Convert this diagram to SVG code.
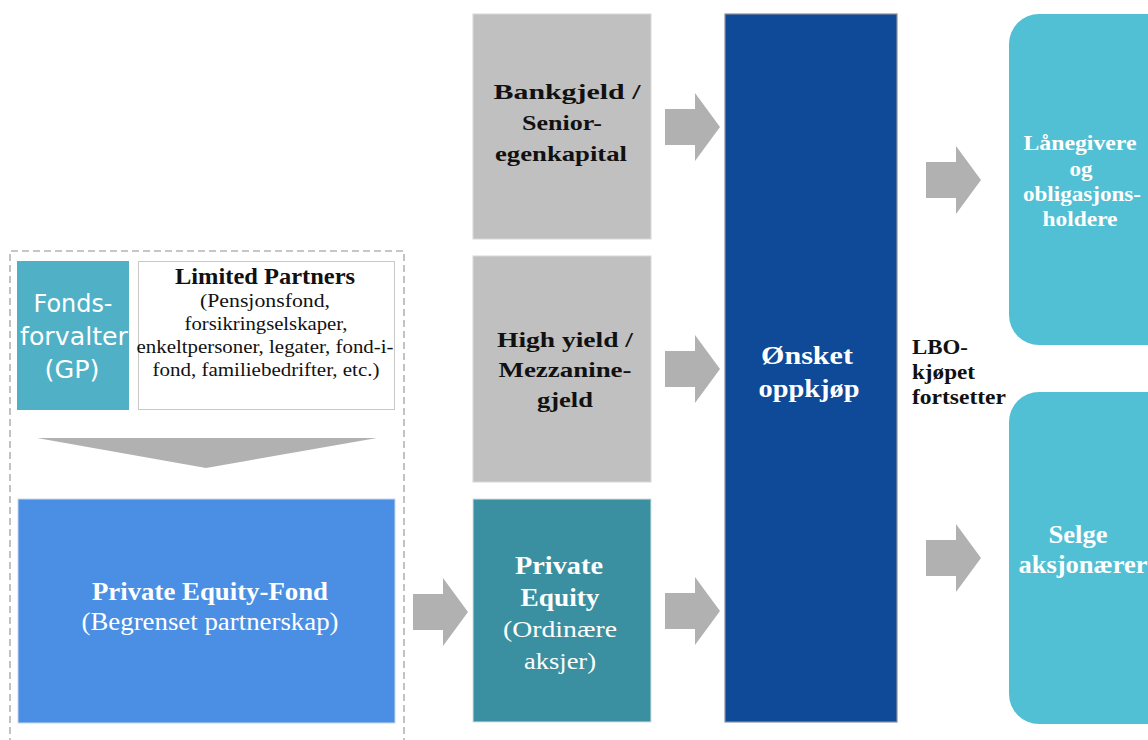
<svg xmlns="http://www.w3.org/2000/svg" xmlns:xlink="http://www.w3.org/1999/xlink" width="1148" height="740" viewBox="0 0 1148 740">
<style>
.serif{font-family:"Liberation Serif","Times New Roman",serif}
.b{font-weight:bold}
.w{fill:#ffffff}
.k{fill:#111111}
.gray{fill:#c0c0c0;stroke:#d8d8d8;stroke-width:1}
.arr{fill:#b1b1b1}
.t{text-anchor:middle}
</style>
<defs>
<path id="arrow" d="M0,-18 H30 V-34 L55,0 L30,34 V18 H0 Z"/>
</defs>
<rect width="1148" height="740" fill="#ffffff"/>

<g id="fund-frame">
<path d="M10,745 V251 H404 V745" fill="none" stroke="#b4b4b4" stroke-width="1.6" stroke-dasharray="7,4"/>
</g>

<g id="gp">
<rect x="17" y="261" width="112" height="149" fill="#4fb0c6"/>
<text class="t w" font-family="DejaVu Sans,sans-serif" font-size="25" x="73" y="312" textLength="79" lengthAdjust="spacingAndGlyphs">Fonds-</text>
<text class="t w" font-family="DejaVu Sans,sans-serif" font-size="25" x="74" y="345" textLength="108" lengthAdjust="spacingAndGlyphs">forvalter</text>
<text class="t w" font-family="DejaVu Sans,sans-serif" font-size="25" x="72" y="378" textLength="55" lengthAdjust="spacingAndGlyphs">(GP)</text>
</g>

<g id="lp">
<rect x="138.5" y="261.5" width="256" height="148" fill="#ffffff" stroke="#c8c8c8" stroke-width="1"/>
<text class="serif b t k" font-size="24" x="265" y="284" textLength="180" lengthAdjust="spacingAndGlyphs">Limited Partners</text>
<text class="serif t k" font-size="18.5" x="265" y="307" textLength="130" lengthAdjust="spacingAndGlyphs">(Pensjonsfond,</text>
<text class="serif t k" font-size="18.5" x="266" y="330" textLength="163" lengthAdjust="spacingAndGlyphs">forsikringselskaper,</text>
<text class="serif t k" font-size="18.5" x="265" y="353" textLength="257" lengthAdjust="spacingAndGlyphs">enkeltpersoner, legater, fond-i-</text>
<text class="serif t k" font-size="18.5" x="266" y="376" textLength="227" lengthAdjust="spacingAndGlyphs">fond, familiebedrifter, etc.)</text>
</g>

<g id="pe-fond">
<rect x="18" y="499" width="377" height="224" fill="#4a8fe3" stroke="#c8d8ee" stroke-width="1"/>
<text class="serif b t w" font-size="26" x="210" y="600" textLength="236" lengthAdjust="spacingAndGlyphs">Private Equity-Fond</text>
<text class="serif t w" font-size="25" x="210" y="630" textLength="257" lengthAdjust="spacingAndGlyphs">(Begrenset partnerskap)</text>
</g>

<g id="bankgjeld">
<rect class="gray" x="473" y="14" width="178" height="225"/>
<text class="serif b t k" font-size="22" x="567" y="99" textLength="147" lengthAdjust="spacingAndGlyphs">Bankgjeld /</text>
<text class="serif b t k" font-size="22" x="562" y="130" textLength="80" lengthAdjust="spacingAndGlyphs">Senior-</text>
<text class="serif b t k" font-size="22" x="561" y="161" textLength="132" lengthAdjust="spacingAndGlyphs">egenkapital</text>
</g>

<g id="high-yield">
<rect class="gray" x="473" y="256" width="178" height="226"/>
<text class="serif b t k" font-size="22" x="565" y="347" textLength="136" lengthAdjust="spacingAndGlyphs">High yield /</text>
<text class="serif b t k" font-size="22" x="565" y="377" textLength="133" lengthAdjust="spacingAndGlyphs">Mezzanine-</text>
<text class="serif b t k" font-size="22" x="565" y="407" textLength="56" lengthAdjust="spacingAndGlyphs">gjeld</text>
</g>

<g id="private-equity">
<rect x="473" y="499" width="178" height="223" fill="#3a90a0" stroke="#d8e0e0" stroke-width="1"/>
<text class="serif b t w" font-size="25" x="559" y="574" textLength="88" lengthAdjust="spacingAndGlyphs">Private</text>
<text class="serif b t w" font-size="25" x="560" y="606" textLength="79" lengthAdjust="spacingAndGlyphs">Equity</text>
<text class="serif t w" font-size="24" x="560" y="637" textLength="114" lengthAdjust="spacingAndGlyphs">(Ordinære</text>
<text class="serif t w" font-size="24" x="560" y="669" textLength="72" lengthAdjust="spacingAndGlyphs">aksjer)</text>
</g>

<g id="onsket-oppkjop">
<rect x="725" y="14" width="172" height="708" fill="#0f4a98" stroke="#8a8f99" stroke-width="1.2"/>
<text class="serif b t w" font-size="26" x="807" y="364" textLength="92" lengthAdjust="spacingAndGlyphs">Ønsket</text>
<text class="serif b t w" font-size="26" x="809" y="397" textLength="101" lengthAdjust="spacingAndGlyphs">oppkjøp</text>
</g>

<g id="lbo-label">
<text class="serif b k" font-size="21" x="912" y="354" textLength="56" lengthAdjust="spacingAndGlyphs">LBO-</text>
<text class="serif b k" font-size="21" x="912" y="379" textLength="63" lengthAdjust="spacingAndGlyphs">kjøpet</text>
<text class="serif b k" font-size="21" x="912" y="404" textLength="94" lengthAdjust="spacingAndGlyphs">fortsetter</text>
</g>

<g id="langivere">
<rect x="1009" y="14" width="170" height="331" rx="30" ry="30" fill="#52c0d4"/>
<text class="serif b t w" font-size="22" x="1080" y="150" textLength="113" lengthAdjust="spacingAndGlyphs">Lånegivere</text>
<text class="serif b t w" font-size="22" x="1081" y="176" textLength="23" lengthAdjust="spacingAndGlyphs">og</text>
<text class="serif b t w" font-size="22" x="1082" y="201" textLength="118" lengthAdjust="spacingAndGlyphs">obligasjons-</text>
<text class="serif b t w" font-size="22" x="1080" y="226" textLength="75" lengthAdjust="spacingAndGlyphs">holdere</text>
</g>

<g id="selge">
<rect x="1009" y="392" width="170" height="332" rx="30" ry="30" fill="#52c0d4"/>
<text class="serif b t w" font-size="25" x="1078" y="543" textLength="59" lengthAdjust="spacingAndGlyphs">Selge</text>
<text class="serif b t w" font-size="25" x="1083" y="573" textLength="129" lengthAdjust="spacingAndGlyphs">aksjonærer</text>
</g>

<g id="connectors">
<polygon class="arr" points="37,438 377,438 206,468"/>
<use xlink:href="#arrow" class="arr" x="413" y="612"/>
<use xlink:href="#arrow" class="arr" x="665" y="127"/>
<use xlink:href="#arrow" class="arr" x="665" y="369"/>
<use xlink:href="#arrow" class="arr" x="665" y="611"/>
<use xlink:href="#arrow" class="arr" x="926" y="180"/>
<use xlink:href="#arrow" class="arr" x="926" y="558"/>
</g>
</svg>
